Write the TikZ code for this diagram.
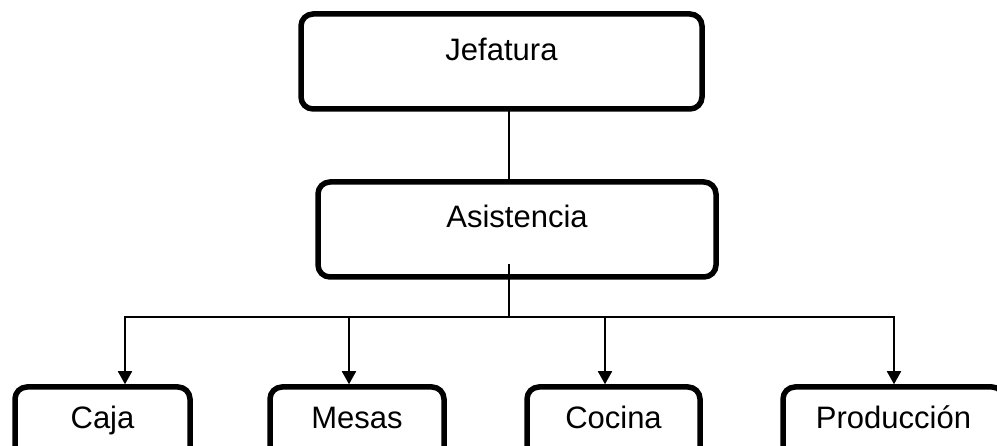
\documentclass[tikz,border=0pt]{standalone}
\usepackage{fontspec}
\setmainfont{Liberation Sans}
\usetikzlibrary{arrows.meta}
\begin{document}
\begin{tikzpicture}[x=1pt,y=-1pt,
  box/.style={draw=black, line width=5.5pt, rounded corners=12pt, inner sep=0pt,
    anchor=base, font=\fontsize{31pt}{36pt}\selectfont},
  top/.style={box, text height=42pt, text depth=40pt},
  link/.style={draw=black, line width=1.8pt, line cap=rect},
  down/.style={draw=black, line width=1.8pt, -{Triangle[width=14pt,length=13pt]}}]
\useasboundingbox (0,0) rectangle (997,446);
\clip (0,0) rectangle (997,446);

% management boxes
\node[box, minimum width=401pt, text height=47pt, text depth=48pt] (jef) at (501.5,61) {Jefatura};
\node[box, minimum width=398pt, text height=46pt, text depth=49pt] (asi) at (517,228) {Asistencia};

% department boxes
\node[top, minimum width=175pt] (caja)   at (102.5,429) {Caja};
\node[top, minimum width=174pt] (mesas)  at (357,429)   {Mesas};
\node[top, minimum width=173pt] (cocina) at (613.5,429) {Cocina};
\node[top, minimum width=221pt] (prod)   at (893.5,429) {Producción};

% vertical spine
\coordinate (vx) at (509,0);
\draw[link] (jef.south -| vx) -- (asi.north -| vx);
\coordinate (stem) at (509,265);
\coordinate (hub) at (509,317);
\draw[link] (stem) -- (hub);

% distribution bus
\coordinate (b1) at (125,317);
\coordinate (b2) at (349,317);
\coordinate (b3) at (605,317);
\coordinate (b4) at (894,317);
\draw[link] (b1) -- (b4);
\draw[down] (b1) -- (b1 |- caja.north);
\draw[down] (b2) -- (b2 |- mesas.north);
\draw[down] (b3) -- (b3 |- cocina.north);
\draw[down] (b4) -- (b4 |- prod.north);
\end{tikzpicture}
\end{document}
